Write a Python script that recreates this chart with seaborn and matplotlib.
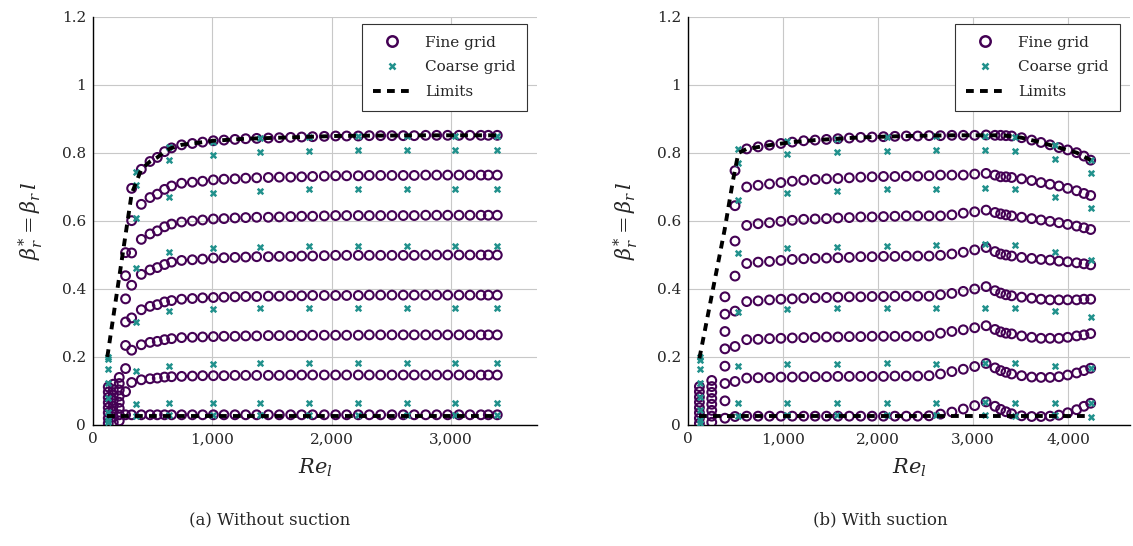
import numpy as np
import pandas as pd
import matplotlib
matplotlib.use("Agg")
import matplotlib.pyplot as plt
from matplotlib.lines import Line2D
import seaborn as sns

# ---------------- data: panel (a) without suction ----------------
re_fine_a = [128, 170, 220, 273, 324, 405, 478, 539, 600, 659, 743, 833, 919, 1009, 1098,
             1190, 1280, 1372, 1470, 1562, 1657, 1749, 1841, 1939, 2034, 2126, 2224, 2316,
             2411, 2506, 2601, 2693, 2789, 2881, 2973, 3068, 3160, 3252, 3314, 3389]
fine_a1 = [0.005, 0.008, 0.012, 0.030, 0.030, 0.030, 0.030, 0.030, 0.030, 0.030, 0.030, 0.030,
           0.030, 0.030, 0.030, 0.030, 0.030, 0.030, 0.030, 0.030, 0.030, 0.030, 0.030, 0.030,
           0.030, 0.030, 0.030, 0.030, 0.030, 0.030, 0.030, 0.030, 0.030, 0.030, 0.030, 0.030,
           0.030, 0.030, 0.030, 0.030]
fine_a2 = [0.020, 0.024, 0.030, 0.098, 0.125, 0.133, 0.136, 0.138, 0.141, 0.142, 0.143, 0.144,
           0.145, 0.145, 0.145, 0.146, 0.146, 0.146, 0.146, 0.146, 0.147, 0.147, 0.147, 0.147,
           0.147, 0.147, 0.147, 0.147, 0.147, 0.147, 0.147, 0.147, 0.147, 0.147, 0.147, 0.147,
           0.147, 0.147, 0.147, 0.147]
fine_a3 = [0.036, 0.040, 0.049, 0.166, 0.220, 0.236, 0.243, 0.246, 0.251, 0.254, 0.257, 0.258,
           0.259, 0.260, 0.261, 0.261, 0.262, 0.262, 0.263, 0.263, 0.263, 0.263, 0.264, 0.264,
           0.264, 0.264, 0.264, 0.265, 0.265, 0.265, 0.265, 0.265, 0.265, 0.265, 0.265, 0.265,
           0.265, 0.265, 0.265, 0.265]
fine_a4 = [0.051, 0.056, 0.067, 0.234, 0.315, 0.339, 0.349, 0.354, 0.362, 0.366, 0.370, 0.372,
           0.374, 0.375, 0.376, 0.377, 0.378, 0.378, 0.379, 0.379, 0.380, 0.380, 0.381, 0.381,
           0.381, 0.381, 0.381, 0.382, 0.382, 0.382, 0.382, 0.382, 0.382, 0.382, 0.382, 0.382,
           0.382, 0.382, 0.382, 0.382]
fine_a5 = [0.066, 0.072, 0.085, 0.303, 0.411, 0.443, 0.456, 0.463, 0.472, 0.479, 0.484, 0.486,
           0.488, 0.491, 0.492, 0.493, 0.494, 0.495, 0.495, 0.496, 0.496, 0.497, 0.497, 0.498,
           0.499, 0.499, 0.499, 0.499, 0.499, 0.499, 0.499, 0.499, 0.500, 0.500, 0.500, 0.500,
           0.500, 0.500, 0.500, 0.500]
fine_a6 = [0.081, 0.088, 0.103, 0.371, 0.506, 0.546, 0.562, 0.571, 0.583, 0.591, 0.597, 0.600,
           0.603, 0.606, 0.607, 0.609, 0.610, 0.611, 0.611, 0.612, 0.613, 0.614, 0.614, 0.615,
           0.616, 0.616, 0.616, 0.616, 0.616, 0.616, 0.616, 0.616, 0.617, 0.617, 0.617, 0.617,
           0.617, 0.617, 0.617, 0.617]
fine_a7 = [0.097, 0.104, 0.122, 0.439, 0.601, 0.649, 0.669, 0.679, 0.693, 0.703, 0.711, 0.714,
           0.717, 0.721, 0.723, 0.724, 0.726, 0.727, 0.728, 0.729, 0.729, 0.730, 0.731, 0.732,
           0.733, 0.733, 0.733, 0.734, 0.734, 0.734, 0.734, 0.734, 0.735, 0.735, 0.735, 0.735,
           0.735, 0.735, 0.735, 0.735]
fine_a8 = [0.112, 0.120, 0.140, 0.507, 0.696, 0.752, 0.775, 0.787, 0.804, 0.815, 0.824, 0.828,
           0.832, 0.836, 0.838, 0.840, 0.842, 0.843, 0.844, 0.845, 0.846, 0.847, 0.848, 0.849,
           0.850, 0.850, 0.850, 0.851, 0.851, 0.851, 0.851, 0.851, 0.852, 0.852, 0.852, 0.852,
           0.852, 0.852, 0.852, 0.852]

re_coarse_a = [126, 360, 637, 1006, 1400, 1813, 2222, 2632, 3035, 3389]
coarse_a1 = [0.010, 0.026, 0.028, 0.029, 0.029, 0.028, 0.029, 0.029, 0.029, 0.029]
coarse_a2 = [0.014, 0.062, 0.066, 0.066, 0.066, 0.066, 0.066, 0.066, 0.066, 0.066]
coarse_a3 = [0.039, 0.160, 0.175, 0.178, 0.181, 0.181, 0.181, 0.181, 0.181, 0.181]
coarse_a4 = [0.080, 0.304, 0.335, 0.340, 0.343, 0.345, 0.345, 0.345, 0.345, 0.345]
coarse_a5 = [0.125, 0.461, 0.510, 0.520, 0.525, 0.527, 0.527, 0.527, 0.527, 0.527]
coarse_a6 = [0.164, 0.608, 0.670, 0.681, 0.689, 0.693, 0.693, 0.693, 0.693, 0.693]
coarse_a7 = [0.195, 0.706, 0.779, 0.794, 0.802, 0.806, 0.809, 0.809, 0.809, 0.809]
coarse_a8 = [0.200, 0.745, 0.819, 0.833, 0.843, 0.846, 0.849, 0.849, 0.849, 0.849]

limit_hi_re_a = [120, 324, 405, 478, 539, 600, 659, 743, 833, 1009, 1280, 1562, 1841, 2034,
                 2316, 2789, 3389]
limit_hi_a = [0.200, 0.680, 0.752, 0.775, 0.787, 0.804, 0.815, 0.824, 0.828, 0.836, 0.842,
              0.845, 0.848, 0.850, 0.851, 0.852, 0.852]
limit_lo_re_a = [120, 3389]
limit_lo_a = [0.027, 0.027]

# ---------------- data: panel (b) with suction ----------------
re_fine_b = [120, 250, 389, 495, 618, 738, 858, 978, 1098, 1218, 1338, 1458, 1578, 1698, 1818,
             1938, 2058, 2178, 2298, 2418, 2538, 2658, 2778, 2898, 3018, 3138, 3232, 3291,
             3347, 3407, 3512, 3618, 3716, 3811, 3905, 3997, 4091, 4168, 4239]
fine_b1 = [0.005, 0.008, 0.020, 0.025, 0.026, 0.026, 0.026, 0.026, 0.026, 0.026, 0.026, 0.026,
           0.026, 0.026, 0.026, 0.026, 0.026, 0.026, 0.026, 0.026, 0.027, 0.032, 0.038, 0.047,
           0.057, 0.068, 0.055, 0.046, 0.039, 0.033, 0.027, 0.025, 0.025, 0.026, 0.029, 0.036,
           0.045, 0.055, 0.064]
fine_b2 = [0.020, 0.026, 0.071, 0.128, 0.138, 0.139, 0.140, 0.141, 0.141, 0.142, 0.142, 0.142,
           0.143, 0.143, 0.143, 0.143, 0.143, 0.144, 0.144, 0.144, 0.145, 0.150, 0.157, 0.164,
           0.172, 0.181, 0.168, 0.160, 0.155, 0.150, 0.145, 0.141, 0.140, 0.140, 0.142, 0.147,
           0.153, 0.160, 0.167]
fine_b3 = [0.036, 0.043, 0.122, 0.231, 0.251, 0.252, 0.254, 0.255, 0.256, 0.257, 0.258, 0.259,
           0.259, 0.260, 0.260, 0.261, 0.261, 0.261, 0.261, 0.261, 0.262, 0.270, 0.275, 0.280,
           0.286, 0.292, 0.281, 0.274, 0.270, 0.268, 0.262, 0.258, 0.255, 0.255, 0.255, 0.258,
           0.262, 0.265, 0.269]
fine_b4 = [0.051, 0.061, 0.173, 0.335, 0.363, 0.365, 0.368, 0.370, 0.371, 0.373, 0.374, 0.375,
           0.376, 0.377, 0.377, 0.378, 0.378, 0.379, 0.379, 0.379, 0.379, 0.383, 0.387, 0.393,
           0.400, 0.407, 0.395, 0.388, 0.383, 0.380, 0.376, 0.373, 0.370, 0.368, 0.368, 0.368,
           0.368, 0.370, 0.370]
fine_b5 = [0.067, 0.078, 0.224, 0.438, 0.475, 0.479, 0.481, 0.484, 0.487, 0.489, 0.490, 0.491,
           0.492, 0.493, 0.495, 0.495, 0.496, 0.496, 0.497, 0.497, 0.497, 0.499, 0.503, 0.508,
           0.515, 0.522, 0.510, 0.503, 0.500, 0.497, 0.493, 0.490, 0.487, 0.485, 0.482, 0.480,
           0.477, 0.474, 0.471]
fine_b6 = [0.082, 0.096, 0.275, 0.541, 0.587, 0.592, 0.595, 0.599, 0.602, 0.605, 0.606, 0.607,
           0.609, 0.610, 0.612, 0.612, 0.613, 0.614, 0.615, 0.615, 0.615, 0.615, 0.618, 0.623,
           0.627, 0.632, 0.625, 0.621, 0.618, 0.615, 0.611, 0.607, 0.603, 0.599, 0.595, 0.590,
           0.585, 0.580, 0.575]
fine_b7 = [0.098, 0.113, 0.326, 0.645, 0.700, 0.705, 0.709, 0.713, 0.717, 0.720, 0.722, 0.724,
           0.725, 0.727, 0.729, 0.730, 0.731, 0.731, 0.732, 0.732, 0.733, 0.735, 0.735, 0.735,
           0.738, 0.740, 0.735, 0.730, 0.730, 0.728, 0.724, 0.719, 0.713, 0.708, 0.703, 0.696,
           0.689, 0.681, 0.675]
fine_b8 = [0.113, 0.131, 0.377, 0.748, 0.812, 0.818, 0.823, 0.828, 0.832, 0.836, 0.838, 0.840,
           0.842, 0.844, 0.846, 0.847, 0.848, 0.849, 0.850, 0.850, 0.851, 0.851, 0.852, 0.852,
           0.852, 0.853, 0.852, 0.852, 0.851, 0.850, 0.845, 0.838, 0.831, 0.824, 0.816, 0.809,
           0.801, 0.791, 0.779]

re_coarse_b = [126, 530, 1039, 1572, 2091, 2610, 3130, 3442, 3863, 4239]
coarse_b1 = [0.005, 0.026, 0.029, 0.029, 0.029, 0.029, 0.029, 0.026, 0.029, 0.025]
coarse_b2 = [0.016, 0.064, 0.066, 0.066, 0.066, 0.066, 0.068, 0.066, 0.066, 0.064]
coarse_b3 = [0.043, 0.174, 0.178, 0.180, 0.181, 0.180, 0.181, 0.181, 0.175, 0.169]
coarse_b4 = [0.082, 0.331, 0.340, 0.343, 0.345, 0.345, 0.345, 0.345, 0.334, 0.317]
coarse_b5 = [0.124, 0.505, 0.522, 0.525, 0.527, 0.528, 0.531, 0.528, 0.510, 0.486]
coarse_b6 = [0.164, 0.662, 0.683, 0.689, 0.693, 0.693, 0.696, 0.693, 0.671, 0.637]
coarse_b7 = [0.192, 0.772, 0.796, 0.802, 0.805, 0.809, 0.809, 0.805, 0.781, 0.742]
coarse_b8 = [0.200, 0.811, 0.836, 0.842, 0.846, 0.851, 0.851, 0.846, 0.824, 0.779]

limit_hi_re_b = [120, 386, 474, 530, 618, 858, 1098, 1338, 1578, 1818, 2058, 2298, 2538, 2778,
                 3018, 3232, 3347, 3512, 3716, 3905, 4091, 4239]
limit_hi_b = [0.196, 0.575, 0.720, 0.800, 0.812, 0.823, 0.832, 0.838, 0.842, 0.846, 0.848,
              0.850, 0.851, 0.852, 0.852, 0.852, 0.851, 0.845, 0.831, 0.816, 0.801, 0.779]
limit_lo_re_b = [120, 4239]
limit_lo_b = [0.026, 0.026]

x_ticks_a = [0, 1000, 2000, 3000]
x_ticks_b = [0, 1000, 2000, 3000, 4000]
x_tick_labels_a = ["0", "1,000", "2,000", "3,000"]
x_tick_labels_b = ["0", "1,000", "2,000", "3,000", "4,000"]
y_ticks = [0, 0.2, 0.4, 0.6, 0.8, 1.0, 1.2]
y_tick_labels = ["0", "0.2", "0.4", "0.6", "0.8", "1", "1.2"]
captions = ["(a) Without suction", "(b) With suction"]


def long_frame(re, rows):
    parts = []
    for i, r in enumerate(rows):
        parts.append(pd.DataFrame({"Re": re, "beta": r, "curve": i}))
    return pd.concat(parts, ignore_index=True)


fine_a = long_frame(re_fine_a, [fine_a1, fine_a2, fine_a3, fine_a4, fine_a5, fine_a6, fine_a7, fine_a8])
coarse_a = long_frame(re_coarse_a, [coarse_a1, coarse_a2, coarse_a3, coarse_a4, coarse_a5, coarse_a6, coarse_a7, coarse_a8])
fine_b = long_frame(re_fine_b, [fine_b1, fine_b2, fine_b3, fine_b4, fine_b5, fine_b6, fine_b7, fine_b8])
coarse_b = long_frame(re_coarse_b, [coarse_b1, coarse_b2, coarse_b3, coarse_b4, coarse_b5, coarse_b6, coarse_b7, coarse_b8])

# ---------------- style ----------------
sns.set_theme(style="white")
plt.rcParams["font.family"] = ["DejaVu Serif"]
plt.rcParams["mathtext.fontset"] = "dejavuserif"

PURPLE = "#440154"
TEAL = "#21918c"
GRID = "#c8c8c8"
DASH = (0, (2.0, 1.6))

fig = plt.figure(figsize=(11.33, 5.46), dpi=100)
ax_a = fig.add_axes([93 / 1133, 121 / 546, 444 / 1133, 408 / 546])
ax_b = fig.add_axes([688 / 1133, 121 / 546, 442 / 1133, 408 / 546])

panels = [
    (ax_a, fine_a, coarse_a, (limit_hi_re_a, limit_hi_a), (limit_lo_re_a, limit_lo_a),
     3722, x_ticks_a, x_tick_labels_a),
    (ax_b, fine_b, coarse_b, (limit_hi_re_b, limit_hi_b), (limit_lo_re_b, limit_lo_b),
     4653, x_ticks_b, x_tick_labels_b),
]

for ax, fdf, cdf, hi, lo, xmax, xt, xtl in panels:
    sns.scatterplot(data=fdf, x="Re", y="beta", ax=ax, marker="o", s=40,
                    facecolor="none", edgecolor=PURPLE, linewidth=1.5,
                    legend=False, zorder=3)
    sns.scatterplot(data=cdf, x="Re", y="beta", ax=ax, marker="x", s=16,
                    color=TEAL, linewidth=1.8, legend=False, zorder=4)
    for (lx, ly) in (hi, lo):
        sns.lineplot(x=lx, y=ly, ax=ax, color="black", linewidth=2.8,
                     linestyle=DASH, sort=False, estimator=None,
                     legend=False, zorder=5)
    ax.set_xlim(0, xmax)
    ax.set_ylim(0, 1.2)
    ax.set_xticks(xt)
    ax.set_xticklabels(xtl)
    ax.set_yticks(y_ticks)
    ax.set_yticklabels(y_tick_labels)
    ax.grid(True, color=GRID, linewidth=0.8)
    ax.set_axisbelow(True)
    for side in ("top", "right"):
        ax.spines[side].set_visible(False)
    for side in ("left", "bottom"):
        ax.spines[side].set_color("black")
        ax.spines[side].set_linewidth(1.0)
    ax.tick_params(axis="both", direction="in", length=3, width=0.8,
                   color="#555555", labelsize=11, pad=5)
    ax.set_xlabel(r"$Re_l$", fontsize=15, labelpad=8)
    ax.set_ylabel(r"$\beta_r^{*} = \beta_r\,l$", fontsize=15, labelpad=12)

    handles = [
        Line2D([], [], linestyle="none", marker="o", markersize=7.5,
               markerfacecolor="none", markeredgecolor=PURPLE, markeredgewidth=1.8),
        Line2D([], [], linestyle="none", marker="x", markersize=4.5,
               color=TEAL, markeredgewidth=1.8),
        Line2D([], [], color="black", linewidth=2.8, linestyle=DASH),
    ]
    leg = ax.legend(handles, ["Fine grid", "Coarse grid", "Limits"],
                    loc="upper right", bbox_to_anchor=(0.978, 0.982),
                    borderaxespad=0, fancybox=False, framealpha=1,
                    edgecolor="#333333", fontsize=11, handlelength=2.4,
                    handletextpad=1.0, borderpad=0.75, labelspacing=0.7)
    leg.get_frame().set_linewidth(0.8)

fig.text(270 / 1133, 26 / 546, captions[0], ha="center", va="center", fontsize=12)
fig.text(880 / 1133, 26 / 546, captions[1], ha="center", va="center", fontsize=12)

fig.savefig("out.png", dpi=100)
